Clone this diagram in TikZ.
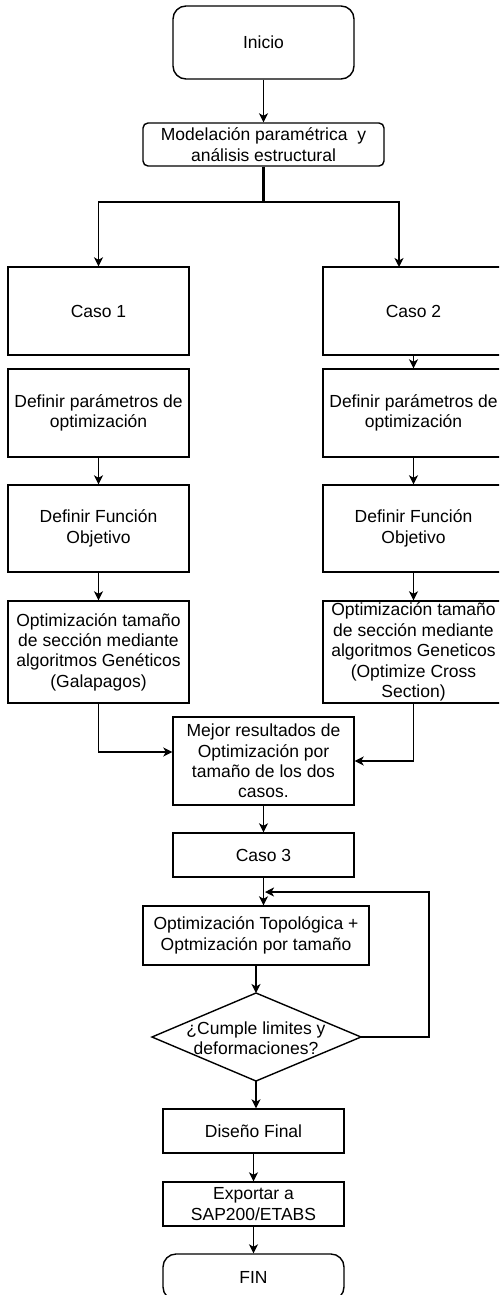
\documentclass[tikz,border=0pt]{standalone}
\usepackage{fontspec}
\setmainfont{Liberation Sans}
\usetikzlibrary{arrows.meta,calc}
\newcommand\fsz{\fontsize{17.5}{20.4}\selectfont}
\begin{document}
\begin{tikzpicture}[x=1pt,y=-1pt,
  ln/.style={line width=1.4pt},
  box/.style={draw, ln, align=center, inner sep=0pt, minimum width=181pt, font=\fsz},
  rbox/.style={box, rounded corners=13pt},
  arr/.style={ln, -{Stealth[length=9pt,width=9pt,inset=2.5pt]}},
  tip/.style={line width=1pt}]
\useasboundingbox (0,0) rectangle (499,1295);
\clip (0,0) rectangle (499,1295);
\fill[white] (0,0) rectangle (499,1295);

\node[rbox, minimum height=73pt] (ini) at (263.5,42.5) {Inicio};
\node[box, rounded corners=5pt, minimum width=241pt, minimum height=43pt] (mod) at (263.5,144.5) {Modelación paramétrica\ \ y\\análisis estructural};

\node[box, minimum height=88pt] (c1) at (98.5,311) {Caso 1};
\node[box, minimum height=88pt] (c2) at (413.5,311) {Caso 2};
\node[box, minimum height=88pt] (d1) at (98.5,413) {Definir parámetros de\\optimización};
\node[box, minimum height=88pt] (d2) at (413.5,413) {Definir parámetros de\\optimización};
\node[box, minimum height=87pt] (f1) at (98.5,528.5) {Definir Función\\Objetivo};
\node[box, minimum height=87pt] (f2) at (413.5,528.5) {Definir Función\\Objetivo};
\node[box, minimum height=102pt] (o1) at (98.5,652) {Optimización tamaño\\de sección mediante\\algoritmos Genéticos\\(Galapagos)};
\node[box, minimum height=102pt] (o2) at (413.5,652) {Optimización tamaño\\de sección mediante\\algoritmos Geneticos\\(Optimize Cross\\Section)};
\node[box, minimum height=88pt] (mej) at (263.5,761) {Mejor resultados de\\Optimización por\\tamaño de los dos\\casos.};
\node[box, minimum height=44pt] (c3) at (263.5,855) {Caso 3};
\node[box, minimum width=226pt, minimum height=59pt] (top) at (256,935.5) {Optimización Topológica +\\Optmización por tamaño};

% decision diamond
\coordinate (diaT) at (256,993);
\coordinate (diaR) at (361,1037);
\coordinate (diaB) at (256,1081);
\coordinate (diaL) at (152,1037);
\draw[ln] (diaT) -- (diaR) -- (diaB) -- (diaL) -- cycle;
\node[align=center, inner sep=0pt, font=\fsz] (dia) at (256,1038) {¿Cumple limites y\\deformaciones?};

\node[box, minimum height=44pt] (dis) at (253.5,1131) {Diseño Final};
\node[box, minimum height=44pt] (exp) at (253.5,1204) {Exportar a\\SAP200/ETABS};
\node[rbox, minimum height=46pt] (fin) at (253.5,1277) {FIN};

% connectors
\draw[arr] (ini.south) -- (mod.north);
\coordinate (split) at (263.5,202);
\draw[line width=2.4pt] (mod.south) -- (split);
\coordinate (c2in) at (399,267);
\draw[arr] (split) -| (c1.north);
\draw[arr] (split) -| (c2in);
\draw[arr] (c2.south) -- (d2.north);
\draw[arr] (d1.south) -- (f1.north);
\draw[arr] (d2.south) -- (f2.north);
\draw[arr] (f1.south) -- (o1.north);
\draw[arr] (f2.south) -- (o2.north);
\draw[arr] (o1.south) |- ([yshift=9pt]mej.west);
\draw[arr] (o2.south) |- (mej.east);
\draw[arr] (mej.south) -- (c3.north);
\draw[arr] (c3.south) -- (c3.south |- top.north);
\draw[arr] (top.south) -- (diaT);
\coordinate (loopend) at (265,892);
\draw[arr] (diaR) -- (429,1037) |- (loopend);
\draw[arr] (diaB) -- (diaB |- dis.north);
\draw[arr] (dis.south) -- (exp.north);
\draw[arr] (exp.south) -- (fin.north);
\end{tikzpicture}
\end{document}
